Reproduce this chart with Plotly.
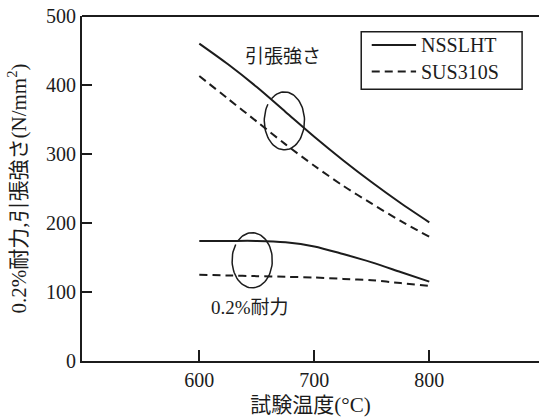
import numpy as np
import plotly.graph_objects as go

# Test temperature (°C)
temps = [600, 625, 650, 675, 700, 725, 750, 775, 800]

# Tensile strength (N/mm²)
nsslht_tensile = [460, 430, 397, 361, 325, 291, 259, 229, 201]
sus310s_tensile = [413, 380, 347, 314, 283, 254, 228, 203, 180]

# 0.2% proof stress (N/mm²)
nsslht_proof = [174, 174, 174, 172, 166, 155, 143, 129, 115]
sus310s_proof = [125, 124, 123, 122, 121, 119, 117, 113, 109]

series_names = ["NSSLHT", "SUS310S"]
x_ticks = [600, 700, 800]
y_ticks = [0, 100, 200, 300, 400, 500]

INK = "#1c1c1c"
FONT = "Liberation Serif, Noto Sans CJK JP, serif"
DASH = "8px,5px"

fig = go.Figure()

solid = dict(color=INK, width=2, shape="spline", smoothing=0.8)
dashed = dict(color=INK, width=2, dash=DASH, shape="spline", smoothing=0.8)

fig.add_trace(go.Scatter(x=temps, y=nsslht_tensile, mode="lines", line=solid, name=series_names[0]))
fig.add_trace(go.Scatter(x=temps, y=sus310s_tensile, mode="lines", line=dashed, name=series_names[1]))
fig.add_trace(go.Scatter(x=temps, y=nsslht_proof, mode="lines", line=solid, name=series_names[0]))
fig.add_trace(go.Scatter(x=temps, y=sus310s_proof, mode="lines", line=dashed, name=series_names[1]))


def open_loop(cx, cy, rx, ry, start_deg, end_deg):
    """Open elliptical loop (clockwise from start to end angle) marking a pair of curves."""
    t = np.radians(np.linspace(start_deg, end_deg, 80))
    return cx + rx * np.cos(t), cy + ry * np.sin(t)


# Loop grouping the tensile-strength curves
lx, ly = open_loop(674, 348, 17.5, 42, 130, -215)
fig.add_trace(go.Scatter(x=lx, y=ly, mode="lines", line=dict(color=INK, width=1.5),
                         hoverinfo="skip"))
# Loop grouping the proof-stress curves
lx, ly = open_loop(646, 146, 17.5, 40, 135, -215)
fig.add_trace(go.Scatter(x=lx, y=ly, mode="lines", line=dict(color=INK, width=1.5),
                         hoverinfo="skip"))

fig.add_annotation(x=673, y=441, text="引張強さ", showarrow=False,
                   font=dict(size=19, color=INK, family=FONT))
fig.add_annotation(x=644, y=77, text="0.2%耐力", showarrow=False,
                   font=dict(size=19, color=INK, family=FONT))

# Legend box (paper coordinates)
fig.add_shape(type="rect", xref="paper", yref="paper",
              x0=0.611, x1=0.963, y0=0.788, y1=0.954,
              line=dict(color=INK, width=1.5), fillcolor="white", layer="above")
for i, (name, dash) in enumerate(zip(series_names, ["solid", DASH])):
    yp = 0.916 - i * 0.077
    fig.add_shape(type="line", xref="paper", yref="paper",
                  x0=0.634, x1=0.731, y0=yp, y1=yp,
                  line=dict(color=INK, width=2, dash=dash), layer="above")
    fig.add_annotation(xref="paper", yref="paper", x=0.737, y=yp, text=name,
                       xanchor="left", yanchor="middle", showarrow=False,
                       font=dict(size=20, color=INK, family=FONT))

axis_common = dict(
    showgrid=False, zeroline=False, showline=True, linecolor=INK, linewidth=2,
    ticks="inside", tickcolor=INK, tickwidth=1.5,
    tickfont=dict(size=20, color=INK, family=FONT),
)

fig.update_xaxes(range=[498, 895.4], tickvals=x_ticks, ticklen=11,
                 title=dict(text="試験温度(°C)", font=dict(size=21, color=INK, family=FONT),
                            standoff=7),
                 **axis_common)
fig.update_yaxes(range=[0, 500], tickvals=y_ticks, ticklen=10,
                 title=dict(text="0.2%耐力,引張強さ(N/mm<sup>2</sup>)",
                            font=dict(size=21, color=INK, family=FONT), standoff=14),
                 **axis_common)

# Top frame line
fig.add_shape(type="line", xref="paper", yref="paper", x0=0, x1=1, y0=1, y1=1,
              line=dict(color=INK, width=2))

fig.update_layout(
    width=539, height=419,
    margin=dict(l=82, r=0, t=16, b=58),
    paper_bgcolor="white", plot_bgcolor="white",
    font=dict(family=FONT, color=INK),
    showlegend=False,
)

fig.write_html("out.html")
